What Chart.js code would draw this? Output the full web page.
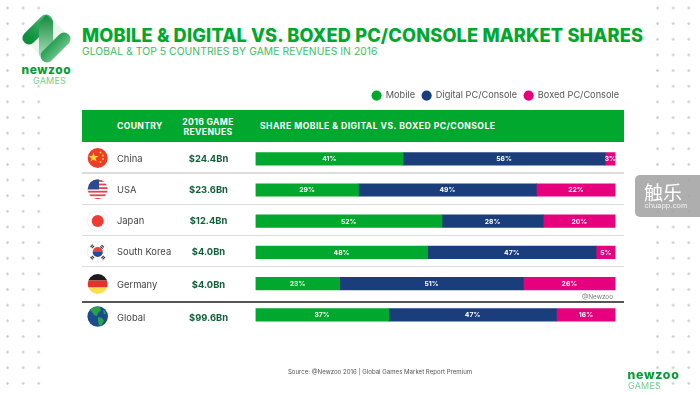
<!DOCTYPE html>
<html>
<head>
<meta charset="utf-8">
<script src="https://cdn.jsdelivr.net/npm/chart.js@4"></script>
<style>
    html, body { margin: 0; padding: 0; background: #fff; }
    #page { position: relative; width: 700px; height: 394px; overflow: hidden; font-family: Inter, sans-serif; background: #fff; }
    #page > * { position: absolute; }
    #chart { left: 0; top: 0; }
    .dots { top: 0; width: 47px; height: 394px; background-image: radial-gradient(circle at 1.5px 1.5px, #cfcfcf 1px, transparent 1.5px); background-size: 15.65px 15.65px; background-position: 0 6.5px; }
    .txt { white-space: nowrap; line-height: 1; }
    .band { left: 82px; top: 109.5px; width: 541.5px; height: 32px; background: #00a82d; }
    .sep { left: 82px; width: 541.5px; height: 1.5px; background: #dcdcdc; }
    .head { color: #fff; font-weight: 700; font-size: 8.6px; letter-spacing: 0.35px; }
    svg { overflow: visible; }
</style>
</head>
<body>
<div id="page">
    <div class="dots" style="left:6px"></div>
    <div class="dots" style="left:656px"></div>

    <!-- top left logo -->
    <div style="left:26px;top:12px;width:46px;height:72px;background:#fff"></div>
    <svg style="left:0;top:0" width="80" height="70">
        <defs>
            <linearGradient id="logoA" x1="0" y1="0" x2="1" y2="1"><stop offset="0" stop-color="#0d8f3c"/><stop offset="1" stop-color="#7fd09b"/></linearGradient>
            <linearGradient id="logoB" x1="0" y1="1" x2="1" y2="0"><stop offset="0" stop-color="#0d8f3c"/><stop offset="1" stop-color="#3fb467"/></linearGradient>
            <linearGradient id="logoC" x1="0" y1="0" x2="0" y2="1"><stop offset="0" stop-color="#12893d"/><stop offset="1" stop-color="#a5dfb8"/></linearGradient>
        </defs>
        <path d="M47 14 L70 37 L47 62 L23 38 Z" fill="#e3f5e9" opacity="0.8"/>
        <path d="M29 38 L46 21" stroke="url(#logoB)" stroke-width="13" stroke-linecap="round" fill="none"/>
        <path d="M39 23 L46 15 L53 21 L53 44 L39 56 Z" fill="url(#logoC)"/>
        <path d="M64 39 L47 56" stroke="url(#logoA)" stroke-width="13" stroke-linecap="round" fill="none"/>
    </svg>
    <div class="txt" style="left:21.5px;top:63.5px;font-size:11.9px;font-weight:800;color:#0a9b38;letter-spacing:0.6px">newzoo</div>
    <div class="txt" style="left:33px;top:75.5px;font-size:9px;color:#6fd08f;letter-spacing:0.2px">GAMES</div>

    <div class="txt" style="left:82px;top:26px;font-size:18.2px;font-weight:800;color:#00a82d;letter-spacing:0.15px">MOBILE &amp; DIGITAL VS. BOXED PC/CONSOLE MARKET SHARES</div>
    <div class="txt" style="left:82px;top:45.7px;font-size:10.3px;color:#3cc063;letter-spacing:0.07px">GLOBAL &amp; TOP 5 COUNTRIES BY GAME REVENUES IN 2016</div>

    <div class="band"></div>
    <div class="txt head" style="left:117px;top:122px">COUNTRY</div>
    <div class="txt head" style="left:178px;top:116.5px;width:60px;text-align:center;line-height:10.5px">2016 GAME<br>REVENUES</div>
    <div class="txt head" style="left:260px;top:122px;letter-spacing:0.47px">SHARE MOBILE &amp; DIGITAL VS. BOXED PC/CONSOLE</div>

    <div class="sep" style="top:172px"></div>
    <div class="sep" style="top:203.6px"></div>
    <div class="sep" style="top:234.6px"></div>
    <div class="sep" style="top:265.6px"></div>
    <div class="sep" style="top:301px;background:#555"></div>

    <canvas id="chart" width="700" height="394"></canvas>

    <!-- flags -->
    <svg style="left:0;top:0" width="700" height="394">
        <defs>
            <clipPath id="c1"><circle cx="97.7" cy="158" r="10"/></clipPath>
            <clipPath id="c2"><circle cx="97.7" cy="189.3" r="10"/></clipPath>
            <clipPath id="c5"><circle cx="97.7" cy="284" r="10"/></clipPath>
        </defs>
        <circle cx="97.7" cy="158" r="10" fill="#ee3c2b"/>
        <polygon points="93.5,152.5 94.8,156 98.5,156 95.5,158.2 96.6,161.8 93.5,159.6 90.4,161.8 91.5,158.2 88.5,156 92.2,156" fill="#fbd92e"/>
        <circle cx="100.5" cy="152.5" r="0.9" fill="#fbd92e"/><circle cx="103" cy="155.5" r="0.9" fill="#fbd92e"/>
        <circle cx="103" cy="159" r="0.9" fill="#fbd92e"/><circle cx="100.5" cy="162" r="0.9" fill="#fbd92e"/>

        <g clip-path="url(#c2)">
            <rect x="87" y="179" width="22" height="21" fill="#fff"/>
            <rect x="87" y="180" width="22" height="1.8" fill="#e8414a"/><rect x="87" y="183.6" width="22" height="1.8" fill="#e8414a"/>
            <rect x="87" y="187.2" width="22" height="1.8" fill="#e8414a"/><rect x="87" y="190.8" width="22" height="1.8" fill="#e8414a"/>
            <rect x="87" y="194.4" width="22" height="1.8" fill="#e8414a"/><rect x="87" y="198" width="22" height="1.8" fill="#e8414a"/>
            <rect x="87" y="179" width="12" height="10.5" fill="#2c4a8f"/>
        </g>

        <circle cx="97.7" cy="221" r="10.3" fill="#fff" stroke="#eaeaf2" stroke-width="0.8"/>
        <circle cx="97.7" cy="221" r="6" fill="#ef3b33"/>

        <circle cx="97.7" cy="252" r="10.3" fill="#fff" stroke="#eaeaf2" stroke-width="0.8"/>
        <path d="M92.6 252 A5.1 5.1 0 0 1 102.8 252 Z" fill="#e8403a"/>
        <path d="M92.6 252 A5.1 5.1 0 0 0 102.8 252 Z" fill="#1f4e9c"/>
        <path d="M90.5 247 l2.4 -2.4 M91.8 248.2 l2.4 -2.4 M101.5 245 l2.4 2.4 M100.3 246.3 l2.4 2.4 M90.5 257 l2.4 2.4 M91.8 255.8 l2.4 2.4 M105 257 l-2.4 2.4 M103.8 255.8 l-2.4 2.4" stroke="#333" stroke-width="1.1"/>

        <g clip-path="url(#c5)">
            <rect x="87" y="273" width="22" height="7.5" fill="#1c1c1c"/>
            <rect x="87" y="280.5" width="22" height="7" fill="#e5322c"/>
            <rect x="87" y="287.5" width="22" height="7" fill="#fbe04b"/>
        </g>

        <circle cx="97.7" cy="316.5" r="10.3" fill="#1d4c8c"/>
        <path d="M90 310 q4 -4 10 -3 l1 3 l-3 3 l-1 3 l-3 -1 l-2 -3 Z M98 317 l4 1 l2 3 l-3 5 l-2 -1 l-1 -4 Z M103 310 l2 1 l1 3 l-2 0 Z" fill="#27a546"/>
    </svg>

    <div class="txt" style="left:560px;top:293.5px;width:53px;text-align:right;font-size:6.4px;color:#777">@Newzoo</div>
    <div class="txt" style="left:230px;top:369px;width:300px;text-align:center;font-size:6.1px;color:#555">Source: @Newzoo 2016 | Global Games Market Report Premium</div>

    <div class="txt" style="left:627.5px;top:369px;font-size:12.3px;font-weight:800;color:#0a9b38;letter-spacing:0.7px">newzoo</div>
    <div class="txt" style="left:628px;top:380.5px;font-size:9px;color:#6fd08f;letter-spacing:0.2px">GAMES</div>

    <!-- watermark -->
    <div style="left:635px;top:175px;width:70px;height:42px;border-radius:5px;background:rgba(160,160,160,0.85)"></div>
    <div class="txt" style="left:644px;top:181.5px;font-family:'Noto Sans CJK SC';font-size:19px;color:#fff">触乐</div>
    <div class="txt" style="left:644.5px;top:201.5px;font-size:7.3px;color:#f2f2f2">chuapp.com</div>
</div>

<script>
// values, labels show them rounded
const countries = ["China", "USA", "Japan", "South Korea", "Germany", "Global"];
const revenues = ["$24.4Bn", "$23.6Bn", "$12.4Bn", "$4.0Bn", "$4.0Bn", "$99.6Bn"];
const mobile = [41, 28.6, 51.8, 47.8, 23.4, 37];
const digital = [56.1, 49.4, 28.1, 46.8, 51, 46.6];
const boxed = [2.9, 22, 20.1, 5.4, 25.6, 16.4];

const rowTextNudge = [0, 0, 0, 0, 1.5, 3];

// percent labels inside the bars, and the two text columns on the left
const rowText = {
    id: 'rowText',
    afterDatasetsDraw(chart) {
        const ctx = chart.ctx;
        const yScale = chart.scales.y;
        ctx.save();
        ctx.textBaseline = 'middle';

        ctx.font = '700 6.8px Inter';
        ctx.fillStyle = '#fff';
        ctx.textAlign = 'center';
        chart.data.datasets.forEach((ds, d) => {
            chart.getDatasetMeta(d).data.forEach((bar, i) => {
                ctx.fillText(Math.round(ds.data[i]) + '%', (bar.x + bar.base) / 2, bar.y + 0.3);
            });
        });

        countries.forEach((name, i) => {
            const y = yScale.getPixelForValue(i) + rowTextNudge[i];
            ctx.font = '400 9.4px Inter';
            ctx.fillStyle = '#444';
            ctx.textAlign = 'left';
            ctx.fillText(name, 117, y);
            ctx.font = '700 9.4px Inter';
            ctx.fillStyle = '#0f5f38';
            ctx.textAlign = 'center';
            ctx.fillText(revenues[i], 208.5, y);
        });
        ctx.restore();
    }
};

new Chart(document.getElementById('chart'), {
    type: 'bar',
    plugins: [rowText],
    data: {
        labels: countries,
        datasets: [
            { label: 'Mobile', data: mobile, backgroundColor: '#00a82d' },
            { label: 'Digital PC/Console', data: digital, backgroundColor: '#1a3e7c' },
            { label: 'Boxed PC/Console', data: boxed, backgroundColor: '#e6007e' }
        ]
    },
    options: {
        indexAxis: 'y',
        responsive: false,
        animation: false,
        layout: { padding: { left: 255.5, right: 74, top: 84, bottom: 63.6 } },
        datasets: { bar: { barThickness: 12.5, borderWidth: 0 } },
        scales: {
            x: {
                stacked: true, min: 0, max: 100, position: 'top',
                grid: { display: false }, border: { display: false }, ticks: { display: false },
                afterFit(s) { s.height = 33; }
            },
            y: { stacked: true, display: false },
            rightGap: {
                type: 'category', axis: 'y', position: 'right',
                grid: { display: false }, border: { display: false }, ticks: { display: false },
                afterFit(s) { s.width = 10.5; }
            }
        },
        plugins: {
            tooltip: { enabled: false },
            legend: {
                position: 'top',
                align: 'end',
                labels: {
                    usePointStyle: true, pointStyle: 'circle',
                    boxWidth: 10, boxHeight: 7.2, padding: 7,
                    color: '#555', font: { family: 'Inter', size: 9.2 }
                }
            }
        }
    }
});
</script>
</body>
</html>
